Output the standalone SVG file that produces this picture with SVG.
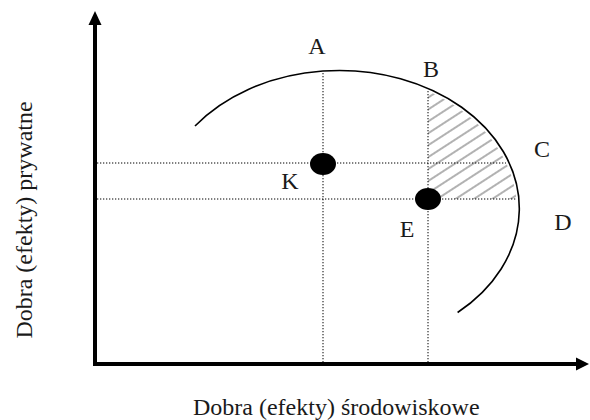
<svg xmlns="http://www.w3.org/2000/svg" width="590" height="420" viewBox="0 0 590 420">
<style>
.lbl{font-family:"Liberation Serif","Times New Roman",serif;font-size:24px;fill:#1a1a1a}
.dot{stroke:#000;stroke-width:1;stroke-dasharray:1.3 1.7;fill:none}
.axis{stroke:#000;stroke-width:4;fill:none}
</style>
<defs>
<pattern id="hatch" width="10" height="10" patternUnits="userSpaceOnUse" patternTransform="rotate(-33)">
<line x1="0" y1="5" x2="10" y2="5" stroke="#888" stroke-width="1.3"/>
</pattern>
</defs>
<rect width="590" height="420" fill="#fff"/>
<g id="hatched-region">
<path d="M428,199 L428,91 A180,138 0 0 1 516.4,199 Z" fill="url(#hatch)"/>
</g>
<g id="connectors">
<line class="dot" x1="97" y1="163" x2="506" y2="163"/>
<line class="dot" x1="97" y1="199" x2="516" y2="199"/>
<line class="dot" x1="323" y1="73" x2="323" y2="362"/>
<line class="dot" x1="428" y1="91" x2="428" y2="362"/>
</g>
<g id="curve">
<path d="M195,126 A180,138 0 1 1 457.6,312.5" fill="none" stroke="#000" stroke-width="1.6"/>
</g>
<g id="axes">
<line class="axis" x1="95" y1="366" x2="95" y2="24"/>
<polygon points="88.5,25 95,11 101.5,25" fill="#000"/>
<line class="axis" x1="93" y1="364" x2="577" y2="364"/>
<polygon points="576,357.5 589,364 576,370.5" fill="#000"/>
</g>
<g id="point-K">
<ellipse cx="323" cy="164" rx="13" ry="11" fill="#000"/>
<text class="lbl" x="290" y="189" text-anchor="middle">K</text>
</g>
<g id="point-E">
<ellipse cx="428" cy="199" rx="13" ry="11" fill="#000"/>
<text class="lbl" x="407" y="237" text-anchor="middle">E</text>
</g>
<g id="label-A"><text class="lbl" x="317" y="54" text-anchor="middle">A</text></g>
<g id="label-B"><text class="lbl" x="431" y="77" text-anchor="middle">B</text></g>
<g id="label-C"><text class="lbl" x="542" y="157" text-anchor="middle">C</text></g>
<g id="label-D"><text class="lbl" x="563" y="230" text-anchor="middle">D</text></g>
<g id="axis-labels">
<text class="lbl" x="193" y="415">Dobra (efekty) środowiskowe</text>
<text class="lbl" transform="translate(32,220) rotate(-90)" text-anchor="middle">Dobra (efekty) prywatne</text>
</g>
</svg>
